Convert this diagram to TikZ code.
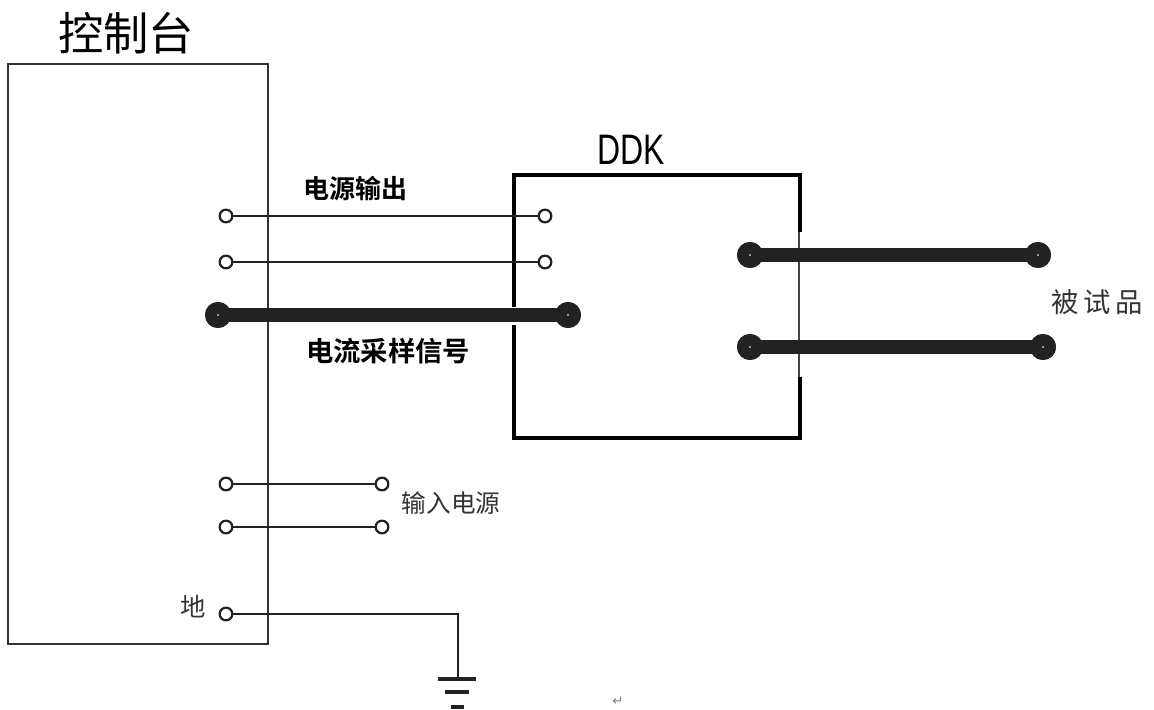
\documentclass[tikz,border=0pt]{standalone}
\usepackage{fontspec}
\newfontfamily\cjk{Noto Sans CJK SC}
\newfontfamily\cjkb{Noto Sans CJK SC Bold}
\newfontfamily\lib{Liberation Sans}
\newfontfamily\dejavu{DejaVu Sans}
\definecolor{ink}{HTML}{222222}
\definecolor{boxgray}{HTML}{333333}
\definecolor{txtgray}{HTML}{333333}
\tikzset{
  term/.style={circle,draw=ink,fill=white,line width=1.7pt,minimum size=9.5pt,inner sep=0pt},
  bigterm/.style={circle,fill=ink,minimum size=19.5pt,inner sep=0pt,
    path picture={\fill[white] (path picture bounding box.center) circle (0.7pt);}},
  wire/.style={draw=ink,line width=1.7pt},
  thickwire/.style={draw=ink,line width=10pt},
  lbl/.style={inner sep=0pt,anchor=center},
}
\begin{document}
\begin{tikzpicture}[x=0.75pt,y=-0.75pt]
\useasboundingbox[fill=white] (0,0) rectangle (1154,710);

% control box
\node[lbl] (title) at (126,33) {\cjk\fontsize{34}{34}\selectfont 控制台};
\draw[boxgray,line width=2.2pt] (8,64) rectangle (268,644);

% DDK box
\node[lbl] (ddkl) at (631,150) {\lib\fontsize{32}{32}\selectfont\scalebox{0.75}[1]{DDK}};
\draw[black,line width=2.8pt] (800,232) -- (800,175) -- (514,175) -- (514,438) -- (800,438) -- (800,377);
\draw[ink!85,line width=1.7pt] (799,232) -- (799,377);
\fill[white] (510,307) rectangle (518,325);

% power output wires
\node[term] (po1a) at (226,216) {};
\node[term] (po1b) at (545,216) {};
\node[term] (po2a) at (226,262) {};
\node[term] (po2b) at (545,262) {};
\draw[wire] (po1a) -- (po1b);
\draw[wire] (po2a) -- (po2b);
\node[lbl] (polbl) at (355,189) {\cjkb\fontsize{19.5}{19.5}\selectfont 电源输出};

% current sampling signal
\node[bigterm] (csa) at (218,315) {};
\node[bigterm] (csb) at (568,315) {};
\draw[thickwire] (csa.center) -- (csb.center);
\node[bigterm] at (csa) {};
\node[bigterm] at (csb) {};
\node[lbl] (cslbl) at (388,351) {\cjkb\fontsize{20.5}{20.5}\selectfont 电流采样信号};

% device under test
\node[bigterm] (d1a) at (750,255) {};
\node[bigterm] (d1b) at (1038,255) {};
\node[bigterm] (d2a) at (750,347) {};
\node[bigterm] (d2b) at (1043,347) {};
\draw[thickwire] (d1a.center) -- (d1b.center);
\draw[thickwire] (d2a.center) -- (d2b.center);
\node[bigterm] at (d1a) {};
\node[bigterm] at (d1b) {};
\node[bigterm] at (d2a) {};
\node[bigterm] at (d2b) {};
\node[lbl,text=txtgray] (dut) at (1097,302) {\cjk\fontsize{20.5}{20.5}\selectfont 被\,试\,品};

% input power
\node[term] (in1a) at (226,484) {};
\node[term] (in1b) at (382,484) {};
\node[term] (in2a) at (226,527) {};
\node[term] (in2b) at (382,527) {};
\draw[wire] (in1a) -- (in1b);
\draw[wire] (in2a) -- (in2b);
\node[lbl,text=txtgray] (inlbl) at (451,503) {\cjk\fontsize{18.5}{18.5}\selectfont 输入电源};

% ground
\node[term] (gnd) at (226,614) {};
\node[lbl,text=txtgray] (gndlbl) at (193,607) {\cjk\fontsize{19}{19}\selectfont 地};
\coordinate (gc) at (458,614);
\coordinate (gb) at (458,679);
\draw[wire] (gnd) -- (gc) -- (gb);
\draw[ink,line width=2.4pt] (438,679) -- (476,679);
\draw[ink,line width=2.4pt] (445,692) -- (469,692);
\draw[ink,line width=2.4pt] (451,707) -- (464,707);

% paragraph mark
\node[lbl,text=gray] (pm) at (618,701) {\dejavu\fontsize{10}{10}\selectfont ↵};
\end{tikzpicture}
\end{document}
